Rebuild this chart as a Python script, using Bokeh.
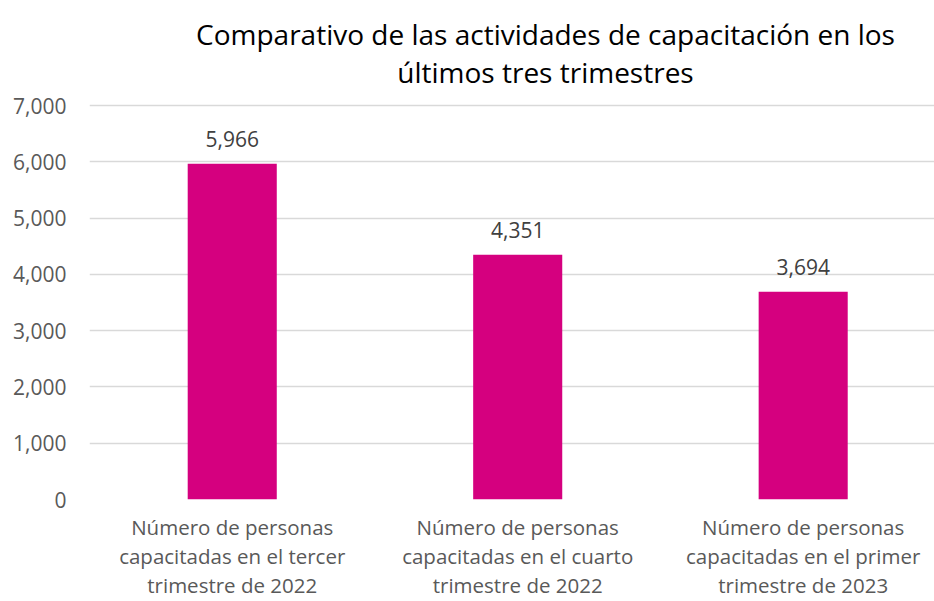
from bokeh.plotting import figure
from bokeh.models import (Range1d, FixedTicker, ColumnDataSource, LabelSet, Label,
                          NumeralTickFormatter)
from bokeh.core.properties import value
from bokeh.embed import file_html
from bokeh.resources import INLINE

title_lines = ["Comparativo de las actividades de capacitación en los", "últimos tres trimestres"]
categories = [
    "Número de personas\ncapacitadas en el tercer\ntrimestre de 2022",
    "Número de personas\ncapacitadas en el cuarto\ntrimestre de 2022",
    "Número de personas\ncapacitadas en el primer\ntrimestre de 2023",
]
values = [5966, 4351, 3694]
y_ticks = [0, 1000, 2000, 3000, 4000, 5000, 6000, 7000]

FONT = "Open Sans"
xpos = [i + 0.5 for i in range(len(categories))]
labels = [f"{v:,}" for v in values]

src = ColumnDataSource(dict(x=xpos, top=values, label=labels))

# the frame spans the whole top of the figure so the title lines can sit inside it
p = figure(width=934, height=601, output_backend="svg", toolbar_location=None,
           x_range=Range1d(0, 2.96), y_range=Range1d(0, 8870),
           min_border_left=89, min_border_right=0, min_border_top=0, min_border_bottom=100)
p.outline_line_color = None
p.background_fill_color = "white"

p.vbar(x="x", top="top", width=0.312, bottom=0, source=src, fill_color="#D5007F", line_color=None)

p.add_layout(LabelSet(x="x", y="top", text="label", source=src, text_align="center",
                      text_baseline="alphabetic", y_offset=17, text_font=value(FONT),
                      text_font_size="21px", text_color="#404040"))

p.yaxis.ticker = FixedTicker(ticks=y_ticks)
p.yaxis.formatter = NumeralTickFormatter(format="0,0")
p.yaxis.axis_line_color = None
p.yaxis.major_tick_line_color = None
p.yaxis.minor_tick_line_color = None
p.yaxis.major_tick_out = 0
p.yaxis.major_tick_in = 0
p.yaxis.major_label_standoff = 23
p.yaxis.major_label_text_font = FONT
p.yaxis.major_label_text_font_size = "21px"
p.yaxis.major_label_text_color = "#595959"

p.xaxis.ticker = FixedTicker(ticks=xpos)
p.xaxis.major_label_overrides = {x: c for x, c in zip(xpos, categories)}
p.xaxis.axis_line_color = None
p.xaxis.major_tick_line_color = None
p.xaxis.minor_tick_line_color = None
p.xaxis.major_tick_out = 0
p.xaxis.major_tick_in = 0
p.xaxis.major_label_standoff = 13
p.xaxis.major_label_text_font = FONT
p.xaxis.major_label_text_font_size = "20.5px"
p.xaxis.major_label_text_color = "#595959"
p.xaxis.major_label_text_line_height = 1.04

p.xgrid.grid_line_color = None
p.ygrid.ticker = FixedTicker(ticks=y_ticks)
p.ygrid.grid_line_color = "#D9D9D9"
p.ygrid.grid_line_width = 1.5

# title lines in screen pixels relative to the frame's bottom-left corner (frame x 89.., bottom 501)
title_baselines = [35, 73]
for line, base in zip(title_lines, title_baselines):
    p.add_layout(Label(x=545 - 89, y=501 - base, x_units="screen", y_units="screen",
                       text=line, text_align="center", text_baseline="alphabetic",
                       text_font=FONT, text_font_size="28px", text_color="#000000"))

open("out.html", "w").write(file_html(p, INLINE))
